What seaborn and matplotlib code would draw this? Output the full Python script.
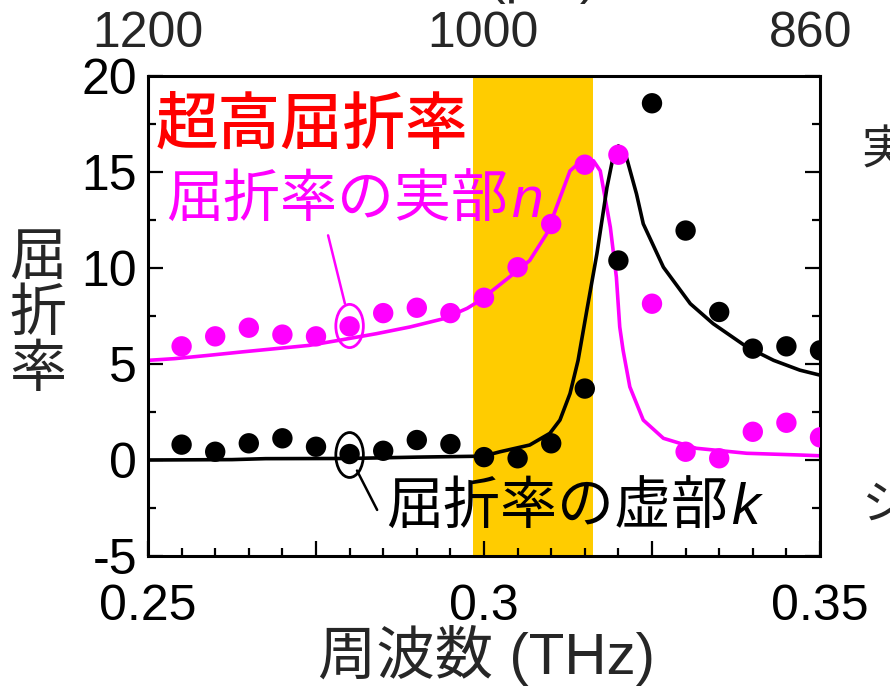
import numpy as np
import matplotlib
matplotlib.use("Agg")
import matplotlib.pyplot as plt
from matplotlib.patches import Ellipse
from matplotlib.ticker import MultipleLocator, FuncFormatter, NullLocator
import seaborn as sns

# Measured refractive index: real part n and imaginary part k
freq_meas = [0.255, 0.260, 0.265, 0.270, 0.275, 0.280, 0.285, 0.290, 0.295, 0.300,
             0.305, 0.310, 0.315, 0.320, 0.325, 0.330, 0.335, 0.340, 0.345, 0.350]
n_meas = [5.92, 6.44, 6.89, 6.53, 6.44, 6.96, 7.65, 7.93, 7.65, 8.45,
          10.04, 12.29, 15.38, 15.90, 8.14, 0.43, 0.09, 1.47, 1.94, 1.18]
k_meas = [0.80, 0.43, 0.87, 1.13, 0.69, 0.31, 0.48, 1.04, 0.83, 0.15,
          0.09, 0.87, 3.72, 10.39, 18.58, 11.95, 7.71, 5.80, 5.92, 5.71]

# Simulated curves
freq_n_sim = [0.2500, 0.2540, 0.2590, 0.2640, 0.2690, 0.2740, 0.2790, 0.2840, 0.2890,
              0.2940, 0.2975, 0.2994, 0.3044, 0.3068, 0.3093, 0.3128, 0.3148, 0.3163,
              0.3173, 0.3188, 0.3197, 0.3202, 0.3207, 0.3217, 0.3237, 0.3267, 0.3316,
              0.3391, 0.3470, 0.3500]
n_sim = [5.19, 5.28, 5.45, 5.63, 5.80, 5.97, 6.27, 6.58, 6.93,
         7.36, 7.90, 8.31, 9.70, 10.39, 11.77, 15.06, 15.67, 15.58,
         15.06, 12.12, 9.52, 6.93, 5.71, 3.81, 2.08, 1.13, 0.61,
         0.35, 0.26, 0.22]

freq_k_sim = [0.2500, 0.2625, 0.2675, 0.2800, 0.2900, 0.2999, 0.3024, 0.3068, 0.3098,
              0.3113, 0.3128, 0.3140, 0.3153, 0.3168, 0.3183, 0.3193, 0.3200, 0.3212,
              0.3227, 0.3237, 0.3267, 0.3307, 0.3341, 0.3391, 0.3431, 0.3470, 0.3500]
k_sim = [0.00, 0.02, 0.07, 0.08, 0.15, 0.20, 0.43, 0.78, 1.39,
         2.08, 3.46, 5.19, 7.79, 10.74, 14.20, 15.93, 16.36, 15.76,
         13.85, 12.30, 10.04, 8.14, 7.10, 5.89, 5.19, 4.68, 4.42]

# Frequency window of the ultra-high index region
band = (0.2984, 0.3162)

# Wavelength ticks (μm) on the top axis
top_ticks_um = [1200, 1000, 860]

MAGENTA = "#FF00FF"
RED = "#FF0000"
YELLOW = "#FFCC00"

sns.set_theme(style="ticks")
plt.rcParams["font.family"] = ["Liberation Sans", "Noto Sans CJK JP"]
plt.rcParams["axes.unicode_minus"] = False

W, H = 890, 689
fig = plt.figure(figsize=(W / 100, H / 100), dpi=100)
ax = fig.add_axes([148 / W, 1 - 556 / H, (820 - 148) / W, (556 - 76) / H])


def fx(x):
    return x / W


def fy(y):
    return 1 - y / H


ax.axvspan(*band, color=YELLOW, lw=0, zorder=0)

sns.lineplot(x=freq_n_sim, y=n_sim, color=MAGENTA, lw=2.6, ax=ax,
             estimator=None, sort=False, zorder=2)
sns.lineplot(x=freq_k_sim, y=k_sim, color="black", lw=2.6, ax=ax,
             estimator=None, sort=False, zorder=2)
sns.scatterplot(x=freq_meas, y=n_meas, color=MAGENTA, s=215, edgecolor="none",
                ax=ax, zorder=3)
sns.scatterplot(x=freq_meas, y=k_meas, color="black", s=215, edgecolor="none",
                ax=ax, zorder=3)

# Marker callouts
ax.add_patch(Ellipse((0.2800, 6.98), 0.0041, 2.25, fill=False, ec=MAGENTA, lw=2, zorder=4))
ax.plot([0.2793, 0.2768], [8.15, 11.7], color=MAGENTA, lw=1.8, zorder=4)
ax.add_patch(Ellipse((0.2800, 0.26), 0.0041, 2.34, fill=False, ec="black", lw=2, zorder=4))
ax.plot([0.2811, 0.2841], [-0.55, -2.6], color="black", lw=1.8, zorder=4)

ax.set_xlim(0.25, 0.35)
ax.set_ylim(-5, 20)
ax.xaxis.set_major_locator(MultipleLocator(0.025))
ax.xaxis.set_minor_locator(MultipleLocator(0.005))
ax.yaxis.set_major_locator(MultipleLocator(5))
ax.yaxis.set_minor_locator(MultipleLocator(2.5))


def freq_label(v, pos):
    if abs(round(v / 0.05) * 0.05 - v) > 1e-6:
        return ""
    return f"{v:.2f}".rstrip("0")


ax.xaxis.set_major_formatter(FuncFormatter(freq_label))
ax.yaxis.set_major_formatter(FuncFormatter(lambda v, p: f"{v:g}"))
ax.tick_params(which="both", direction="in", top=True, right=True, width=1.6,
               labelsize=36, colors="black")
ax.tick_params(which="major", length=11)
ax.tick_params(which="minor", length=5.5)
ax.tick_params(axis="x", pad=20)
ax.tick_params(axis="y", pad=8)
for s in ax.spines.values():
    s.set_linewidth(2.2)
    s.set_color("black")
ax.set_xlabel("")
ax.set_ylabel("")

# Top axis: wavelength labels placed at the matching frequencies
ax_top = ax.twiny()
ax_top.set_xlim(ax.get_xlim())
lo, hi = ax.get_xlim()
top_pos = [min(max(299.792458 / lam, lo), hi) for lam in top_ticks_um]
ax_top.set_xticks(top_pos)
ax_top.set_xticklabels([str(lam) for lam in top_ticks_um])
ax_top.xaxis.set_minor_locator(NullLocator())
ax_top.tick_params(axis="x", length=0, labelsize=36, pad=14)
for s in ax_top.spines.values():
    s.set_visible(False)

# Axis titles
fig.text(fx(38), fy(315), "屈\n折\n率", fontsize=41, ha="center", va="center",
         linespacing=1.05)
fig.text(fx(486), fy(656), "周波数 (THz)", fontsize=42, ha="center", va="center")
fig.text(fx(597), 1 + 7 / H, "波長 (μm)", fontsize=38, ha="right", va="baseline")

# In-plot labels
fig.text(fx(156), fy(127), "超高屈折率", fontsize=45, color=RED, ha="left",
         va="center", fontweight="medium")
t_n = fig.text(fx(166), fy(202), "屈折率の実部", fontsize=41, color=MAGENTA,
               ha="left", va="center")
ax.annotate("n", xy=(1, 0.5), xycoords=t_n, xytext=(2, 0), textcoords="offset points",
            fontsize=41, color=MAGENTA, style="italic", ha="left", va="center",
            annotation_clip=False)
t_k = fig.text(fx(386), fy(509), "屈折率の虚部", fontsize=41, color="black",
               ha="left", va="center")
ax.annotate("k", xy=(1, 0.5), xycoords=t_k, xytext=(2, 0), textcoords="offset points",
            fontsize=41, color="black", style="italic", ha="left", va="center",
            annotation_clip=False)

# Legend entries continuing past the right edge
fig.text(fx(862), fy(152), "実験", fontsize=34, ha="left", va="center")
fig.text(fx(862), fy(507), "シミュレーション", fontsize=34, ha="left", va="center")

fig.savefig("out.png", dpi=100)
